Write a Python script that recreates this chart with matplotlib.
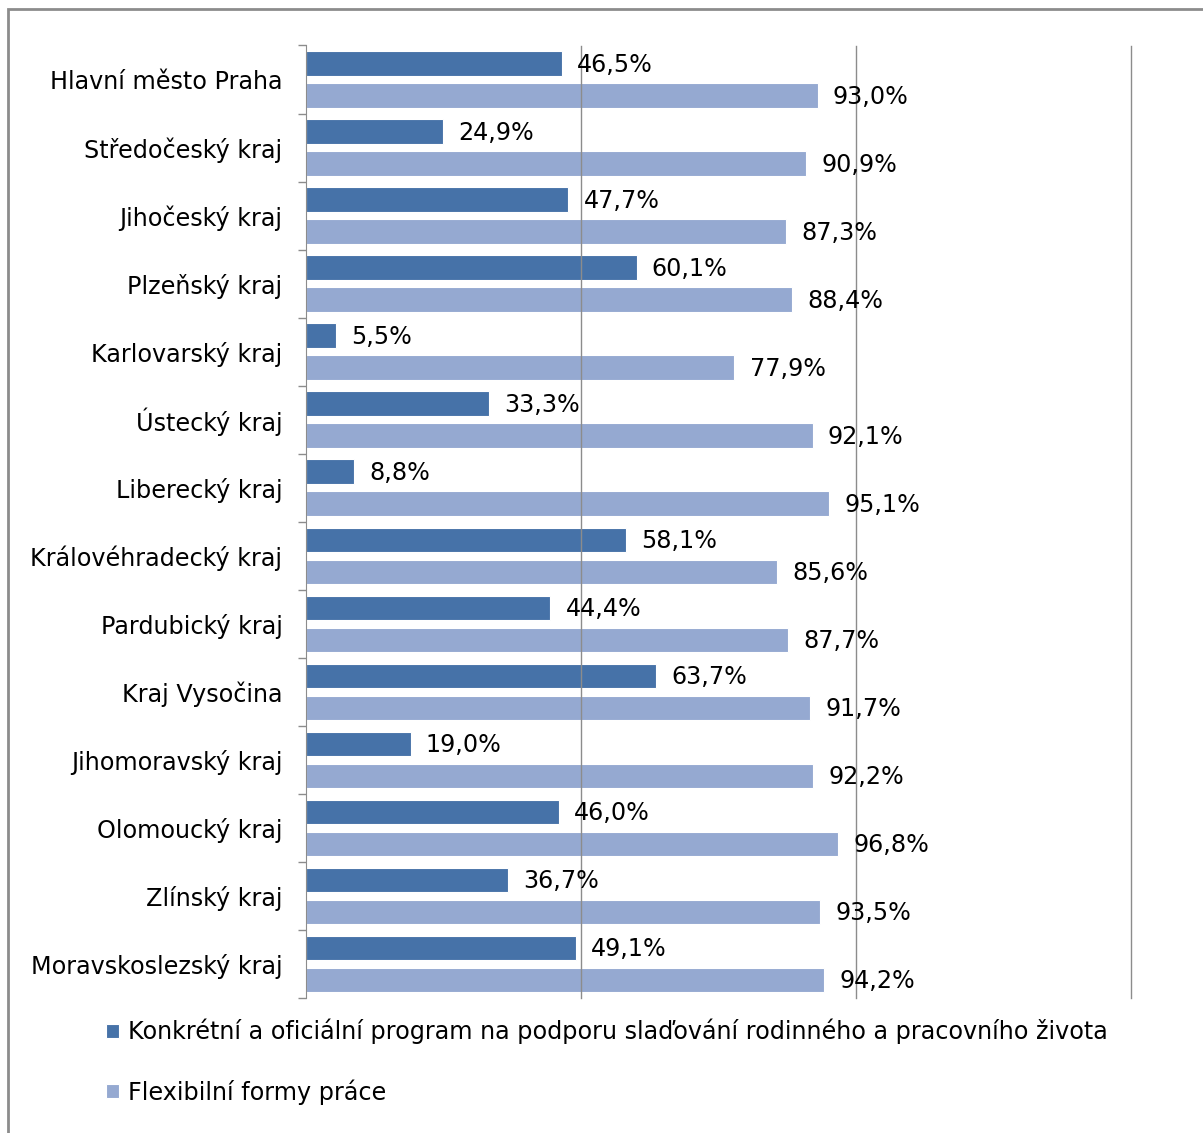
"""Horizontal grouped bar chart: work-life balance programs by Czech region."""

import matplotlib

matplotlib.use("Agg")

import matplotlib.pyplot as plt  # noqa: E402
import numpy as np  # noqa: E402
from matplotlib.patches import Rectangle  # noqa: E402
from matplotlib.ticker import FixedLocator  # noqa: E402

regions = [
    "Hlavní město Praha",
    "Středočeský kraj",
    "Jihočeský kraj",
    "Plzeňský kraj",
    "Karlovarský kraj",
    "Ústecký kraj",
    "Liberecký kraj",
    "Královéhradecký kraj",
    "Pardubický kraj",
    "Kraj Vysočina",
    "Jihomoravský kraj",
    "Olomoucký kraj",
    "Zlínský kraj",
    "Moravskoslezský kraj",
]
program = [46.5, 24.9, 47.7, 60.1, 5.5, 33.3, 8.8, 58.1, 44.4, 63.7, 19.0, 46.0, 36.7, 49.1]
flexible = [93.0, 90.9, 87.3, 88.4, 77.9, 92.1, 95.1, 85.6, 87.7, 91.7, 92.2, 96.8, 93.5, 94.2]
series_names = [
    "Konkrétní a oficiální program na podporu slaďování rodinného a pracovního života",
    "Flexibilní formy práce",
]
colors = ["#4672A8", "#95A9D1"]

plt.rcParams["font.family"] = ["DejaVu Sans"]
FS = 17.2

W, H = 1203, 1133
fig = plt.figure(figsize=(W / 100, H / 100), dpi=100)
ax = fig.add_axes([306 / W, 1 - 998 / H, (1131 - 306) / W, (998 - 45.5) / H])

y = np.arange(len(regions))
bar_h = 0.36
offset = 0.235
handles = []
for vals, off, col, name in zip([program, flexible], [-offset, offset], colors, series_names):
    bars = ax.barh(y + off, vals, height=bar_h, color=col, edgecolor="white",
                   linewidth=0.8, label=name, zorder=2)
    handles.append(bars)
    for rect, v in zip(bars, vals):
        ax.annotate(f"{v:.1f}%".replace(".", ","),
                    (rect.get_width(), rect.get_y() + rect.get_height() / 2),
                    xytext=(11, -1), textcoords="offset points",
                    ha="left", va="center", fontsize=FS, color="black", zorder=4)

ax.set_xlim(0, 150)
ax.set_ylim(len(regions) - 0.5, -0.5)
for gx in (50, 100, 150):
    ax.axvline(gx, color="#8c8c8c", lw=1.0, zorder=3, clip_on=False)

ax.set_xticks([])
ax.set_yticks(y)
ax.set_yticklabels(regions, fontsize=FS)
ax.yaxis.set_minor_locator(FixedLocator(np.arange(-0.5, len(regions), 1.0)))
ax.tick_params(axis="y", which="major", length=0, pad=17)
ax.tick_params(axis="y", which="minor", length=6, color="#8c8c8c", width=1)

for side in ("top", "right", "bottom"):
    ax.spines[side].set_visible(False)
ax.spines["left"].set_color("#8c8c8c")

fig.legend(handles=handles, labels=series_names, loc="upper left",
           bbox_to_anchor=(106 / W, 1 - 1019 / H), frameon=False, fontsize=FS,
           handlelength=0.55, handleheight=0.55, handletextpad=0.35,
           labelspacing=1.45, borderpad=0, borderaxespad=0)

fig.patches.append(Rectangle((8 / W, -0.05), 1.2, 1 - 9 / H + 0.05,
                             transform=fig.transFigure, fill=False,
                             edgecolor="#8c8c8c", lw=2, zorder=0))

fig.savefig("out.png", dpi=100, facecolor="white")
